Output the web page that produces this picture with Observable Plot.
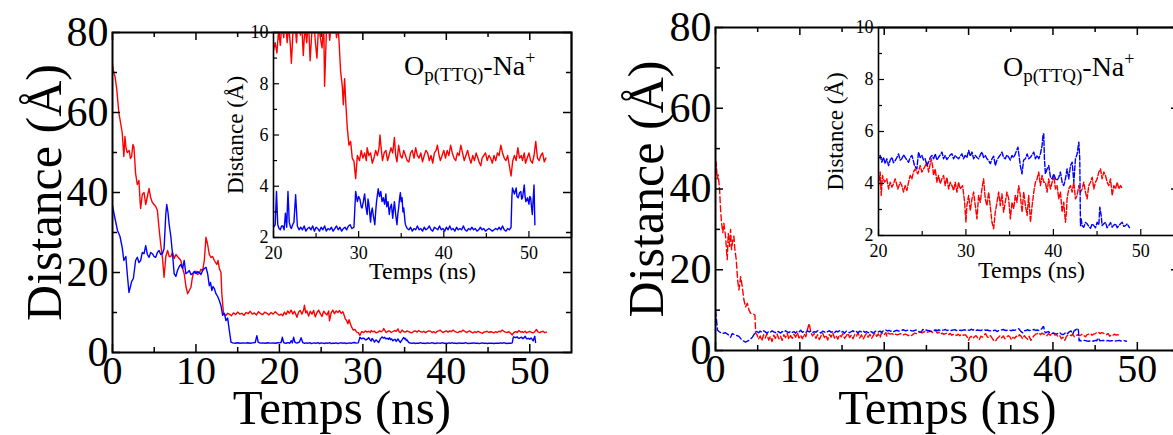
<!DOCTYPE html>
<html><head><meta charset="utf-8">
<script src="https://cdn.jsdelivr.net/npm/d3@7"></script>
<script src="https://cdn.jsdelivr.net/npm/@observablehq/plot@0.6"></script>
<style>
html,body{margin:0;padding:0;background:#fff;}
#root{position:relative;width:1173px;height:435px;overflow:hidden;background:#fff;}
#root svg{position:absolute;}
</style></head><body><div id="root"></div>
<script>
// ---- axis ticks and labels ----
const xMajor = [0,10,20,30,40,50];
const xMinor = [5,15,25,35,45];
const yMajor = [0,20,40,60,80];
const yMinor = [10,30,50,70];
const ixMajor = [20,30,40,50];
const ixMinor = [25,35,45];
const iyMajor = [2,4,6,8,10];
const iyMinor = [3,5,7,9];
const xLabel = "Temps (ns)";
const yLabel = "Distance (Å)";
const RED = "#ff0000", BLUE = "#0000ff";

// ---- series: [time (ns), distance (Å)] ----
const leftRed = [[0,72],[0.15,70],[0.3,69],[0.5,66],[0.76,60],[1.0,57],[1.16,55],[1.36,49],[1.49,54],[1.63,51],[1.77,50],[2.0,50.5],[2.15,48.5],[2.29,49],[2.45,52],[2.57,51.3],[2.77,44.7],[2.97,42],[3.17,43],[3.3,38],[3.37,36],[3.57,39.5],[3.78,40],[3.98,37],[4.18,39],[4.38,41],[4.58,38.6],[4.78,37.5],[4.98,37],[5.18,36.5],[5.38,35.5],[5.58,31],[5.78,27],[5.98,23.8],[6.18,18.8],[6.39,24],[6.6,25.5],[6.8,24],[6.99,24],[7.2,25],[7.39,23.5],[7.6,24.5],[7.79,24],[8.0,23.5],[8.19,23],[8.4,21],[8.59,19.7],[8.8,16.5],[9.0,14.7],[9.2,15.5],[9.4,16.3],[9.55,18.5],[9.68,19.7],[10.0,20.3],[10.2,19.5],[10.4,19.8],[10.6,20.8],[10.8,20.5],[11.0,23],[11.2,28.8],[11.4,27],[11.6,24.5],[11.8,23.8],[12.0,24],[12.2,23],[12.5,22],[12.65,23],[12.8,21],[13.0,20],[13.1,14.7],[13.3,9.7],[13.6,9.3],[13.8,9.8],
[14.0,9.6],[14.25,9.2],[14.5,9.9],[14.75,9.5],[15.0,10.1],[15.25,9.6],[15.5,9.8],[15.75,9.3],[16.0,10.0],[16.25,9.7],[16.5,10.3],[16.75,9.6],[17.0,9.9],[17.25,9.4],[17.5,10.2],[17.75,9.7],[18.0,9.5],[18.25,10.1],[18.5,9.8],[18.75,9.4],[19.0,10.0],[19.25,9.6],[19.5,10.2],[19.75,9.7],
[20.0,9.3],[20.2,9.6],[20.4,9.2],[20.6,10.1],[20.8,9.5],[21.0,10.4],[21.2,9.8],[21.4,10.6],[21.6,9.6],[21.8,10.3],[22.0,9.4],[22.1,8.8],[22.3,10.1],[22.5,10.5],[22.7,9.6],[22.9,10.6],[23.0,11.8],[23.15,9.9],[23.3,10.4],[23.5,9.1],[23.7,10.3],[23.9,9.6],[24.1,10.5],[24.3,8.9],[24.5,10.0],[24.7,10.6],[24.9,9.7],[25.1,9.0],[25.3,10.3],[25.5,9.8],[25.7,9.4],[25.9,10.4],[26.0,7.9],[26.2,9.9],[26.4,10.6],[26.6,9.7],[26.8,10.4],[27.0,10.0],[27.2,10.5],[27.4,9.8],[27.6,10.2],[27.7,9.66],[27.88,8.48],[28.08,7.9],[28.2,7.18],[28.35,8.2],[28.5,7.2],[28.67,6.27],[28.86,5.6],[29.06,5.75],[29.25,5.1],[29.45,4.97],[29.65,4.3],[29.85,5.2],
[30.1,5.0],[30.3,5.4],[30.5,5.1],[30.7,5.3],[30.9,5.0],[31.0,5.5],[31.2,5.2],[31.4,5.3],[31.6,4.9],[31.8,5.1],[32.0,5.4],[32.2,5.2],[32.4,5.5],[32.5,6.0],[32.7,5.3],[32.8,5.0],[33.0,5.3],[33.2,5.4],[33.4,5.0],[33.6,5.25],[33.8,5.5],[34.0,5.3],[34.2,5.9],[34.35,5.2],[34.5,4.95],[34.7,5.6],[34.9,5.2],[35.1,5.1],[35.3,5.4],[35.5,5.2],[35.7,5.0],[35.9,4.95],[36.1,5.3],[36.3,5.4],[36.5,5.1],[36.7,5.5],[36.9,5.2],[37.1,5.1],[37.3,5.3],[37.5,4.95],[37.7,5.2],[37.9,5.4],[38.1,5.3],[38.3,5.0],[38.5,5.2],[38.7,4.9],[38.9,5.3],[39.1,5.4],[39.25,5.6],[39.45,5.2],[39.6,5.0],[39.8,5.2],[40.0,5.4],[40.2,5.1],[40.4,5.4],[40.6,5.2],[40.8,5.6],[41.0,5.3],[41.2,5.1],[41.4,5.0],[41.6,5.3],[41.8,5.2],[42.0,5.6],[42.2,5.3],[42.4,5.0],[42.6,5.2],[42.8,5.4],[43.0,5.1],[43.2,4.9],[43.4,5.2],[43.6,5.0],[43.8,5.3],[44.0,5.1],[44.2,4.9],[44.35,4.8],[44.5,5.1],[44.7,5.2],[44.9,5.3],[45.1,5.0],[45.3,5.2],[45.5,5.1],[45.7,4.9],[45.9,5.2],[46.1,5.0],[46.3,5.3],[46.5,5.2],[46.7,5.6],[46.9,5.3],[47.1,5.1],[47.3,5.0],[47.5,5.2],[47.7,4.8],[47.9,4.4],[48.1,5.0],[48.3,5.2],[48.5,5.0],[48.7,5.5],[48.9,5.1],[49.1,5.2],[49.25,5.0],[49.45,5.3],[49.6,4.9],[49.8,5.1],[50.0,5.3],[50.2,5.0],[50.4,4.9],[50.6,5.2],[50.8,5.75],[51.0,5.1],[51.2,5.0],[51.4,5.2],[51.6,5.3],[51.8,4.95],[52.0,5.1]];

const leftBlue = [[0,36.7],[0.2,34.5],[0.35,33],[0.6,30.5],[0.9,29],[1.16,26.3],[1.36,23],[1.6,24],[1.77,19.7],[1.97,15],[2.15,16.5],[2.29,17.7],[2.5,18.5],[2.77,23],[2.97,23.8],[3.17,22.5],[3.37,23],[3.57,25],[3.78,24.7],[3.98,26.7],[4.18,24.5],[4.38,23.8],[4.58,25],[4.78,24.7],[4.98,24],[5.18,23.8],[5.38,25],[5.58,25.5],[5.78,24.5],[5.98,24.7],[6.18,26],[6.39,34.7],[6.5,37],[6.65,35],[6.79,32],[6.99,29],[7.19,24.7],[7.39,19.7],[7.59,19],[7.79,20.5],[8.0,21.5],[8.19,22],[8.4,21],[8.59,23],[8.79,19.7],[9.0,20],[9.2,20.5],[9.4,19.5],[9.6,19.7],[9.8,20.3],[10.0,19.7],[10.2,20.2],[10.4,20],[10.6,19.5],[10.8,20.5],[11.0,21],[11.2,21.3],[11.4,19.7],[11.6,16.7],[11.75,17.5],[11.9,15.5],[12.05,16.5],[12.2,16],[12.4,14.7],[12.6,14],[12.8,13],[13.0,11.7],[13.2,9.3],[13.4,9.8],[13.6,8],[13.8,8.6],[14.0,5.5],[14.2,2.6],
[14.4,2.4],[14.7,2.3],[15.0,2.45],[15.3,2.3],[15.6,2.4],[15.9,2.35],[16.2,2.45],[16.5,2.3],[16.8,2.4],[17.1,2.5],[17.3,4.2],[17.45,2.6],[17.7,2.35],[18.0,2.4],[18.3,2.3],[18.6,2.45],[18.9,2.35],[19.2,2.4],[19.5,2.3],[19.8,2.45],
[20.0,2.4],[20.2,2.5],[20.35,3.8],[20.5,2.5],[20.65,2.35],[20.8,2.3],[20.95,2.45],[21.1,2.45],[21.25,2.3],[21.4,2.95],[21.55,2.4],[21.7,3.8],[21.85,2.6],[22.0,2.4],[22.1,2.35],[22.25,2.5],[22.4,2.6],[22.6,3.67],[22.8,2.45],[23.0,2.3],[23.2,2.4],[23.4,2.3],[23.6,2.45],[23.8,2.25],[24.0,2.35],[24.2,2.4],[24.4,2.3],[24.6,2.45],[24.8,2.25],[25.0,2.4],[25.2,2.35],[25.4,2.25],[25.6,2.4],[25.8,2.3],[26.0,2.45],[26.2,2.25],[26.4,2.35],[26.6,2.3],[26.8,2.4],[27.0,2.25],[27.2,2.35],[27.4,2.45],[27.6,2.3],[27.8,2.4],[28.0,2.25],[28.2,2.35],[28.4,2.4],[28.6,2.3],[28.8,2.45],[29.0,2.5],[29.2,2.35],[29.45,2.4],[29.55,3.1],[29.65,3.8],[29.85,3.4],[30.0,3.6],[30.15,3.5],[30.3,3.2],[30.4,3.15],[30.55,3.4],[30.7,3.7],[30.85,3.2],[31.0,2.9],[31.1,3.5],[31.2,3.3],[31.4,2.6],[31.5,3.0],[31.6,3.15],[31.75,2.8],[31.9,2.5],[32.0,3.0],[32.1,3.4],[32.3,3.9],[32.45,3.6],[32.6,3.8],[32.75,3.4],[32.9,3.55],[33.05,3.3],[33.2,3.7],[33.3,3.2],[33.45,3.4],[33.6,2.9],[33.7,3.15],[33.85,3.3],[34.0,2.75],[34.1,3.1],[34.2,3.4],[34.35,2.9],[34.5,2.5],[34.6,2.9],[34.7,3.15],[34.8,3.5],[34.9,3.75],[35.0,3.4],[35.1,3.55],[35.2,3.0],[35.3,3.15],[35.45,2.6],[35.5,2.5],[35.7,2.35],[35.9,2.3],[36.1,2.4],[36.3,2.25],[36.5,2.35],[36.7,2.3],[36.9,2.45],[37.1,2.3],[37.3,2.35],[37.5,2.25],[37.7,2.4],[37.9,2.3],[38.1,2.35],[38.3,2.45],[38.5,2.3],[38.7,2.25],[38.9,2.4],[39.1,2.35],[39.3,2.3],[39.5,2.45],[39.7,2.3],[39.9,2.35],[40.1,2.25],[40.3,2.4],[40.5,2.3],[40.7,2.45],[40.9,2.3],[41.1,2.35],[41.3,2.25],[41.5,2.4],[41.7,2.3],[41.9,2.35],[42.1,2.3],[42.3,2.45],[42.5,2.3],[42.7,2.25],[42.9,2.35],[43.1,2.3],[43.3,2.4],[43.5,2.3],[43.7,2.35],[43.9,2.25],[44.1,2.3],[44.3,2.4],[44.5,2.3],[44.7,2.35],[44.9,2.25],[45.1,2.3],[45.3,2.35],[45.5,2.3],[45.7,2.25],[45.9,2.3],[46.1,2.35],[46.3,2.3],[46.5,2.4],[46.7,2.3],[46.9,2.45],[47.1,2.3],[47.3,2.25],[47.5,2.35],[47.7,2.3],[47.9,2.4],[48.0,3.6],[48.07,3.93],[48.3,3.7],[48.5,3.93],[48.6,3.6],[48.74,3.55],[48.9,3.75],[49.05,3.8],[49.15,3.5],[49.25,3.55],[49.45,4.05],[49.55,3.6],[49.64,3.4],[49.84,3.55],[50.0,3.3],[50.1,3.6],[50.2,3.55],[50.3,3.2],[50.4,2.9],[50.5,3.5],[50.6,4.05],[50.7,2.5]];

const rightRed = [[0,44],[0.08,46.7],[0.2,42.5],[0.32,43.5],[0.48,40],[0.6,35],[0.71,31.7],[0.87,29.2],[0.99,31.5],[1.19,28.3],[1.39,22.5],[1.51,29],[1.67,25.8],[1.79,30],[1.9,25],[2.06,27.5],[2.18,28.3],[2.3,25],[2.46,22.5],[2.62,17.5],[2.78,15],[2.98,18.3],[3.17,15.8],[3.37,12.5],[3.57,10.8],[3.77,11.7],[3.97,10],[4.17,9.2],[4.37,9.2],[4.68,8.75],[4.76,4.2],
[4.9,4.0],[5.1,2.8],[5.3,3.6],[5.5,2.4],[5.7,3.9],[5.9,3.1],[6.1,4.2],[6.3,2.6],[6.5,3.5],[6.7,2.2],[6.9,3.8],[7.1,3.0],[7.3,4.1],[7.5,2.9],[7.7,3.6],[7.9,2.5],[8.1,3.9],[8.3,3.2],[8.5,4.3],[8.7,2.8],[8.9,3.7],[9.1,3.0],[9.3,4.0],[9.5,3.3],[9.7,4.4],[9.9,3.1],[10.1,3.8],[10.3,2.9],[10.5,4.1],[10.7,3.4],[10.9,5.2],[11.1,6.7],[11.3,4.5],[11.5,3.6],[11.7,4.2],[11.9,3.0],[12.1,3.9],[12.3,2.7],[12.5,3.6],[12.7,4.3],[12.9,3.2],[13.1,3.8],[13.3,2.6],[13.5,4.0],[13.7,3.3],[13.9,4.4],[14.1,3.1],[14.3,3.7],[14.5,2.8],[14.7,3.9],[14.9,3.4],[15.1,4.2],[15.3,3.0],[15.5,3.6],[15.7,4.3],[15.9,3.2],[16.1,3.8],[16.3,2.9],[16.5,4.0],[16.7,3.5],[16.9,4.4],[17.1,3.1],[17.3,3.9],[17.5,2.8],[17.7,3.6],[17.9,4.2],[18.1,3.3],[18.3,4.0],[18.5,3.0],[18.7,3.7],[18.9,4.4],[19.1,3.5],[19.3,4.1],[19.5,3.2],[19.7,4.5],[19.9,3.9],
[20.0,3.92],[20.19,4.44],[20.31,3.54],[20.46,4.31],[20.69,4.05],[20.95,4.18],[21.15,3.79],[21.34,4.05],[21.53,3.86],[21.72,3.99],[21.91,4.18],[22.21,3.79],[22.48,4.05],[22.67,3.92],[22.86,3.67],[23.05,3.92],[23.24,3.73],[23.44,4.05],[23.63,4.31],[23.82,4.18],[24.0,4.44],[24.2,4.56],[24.5,4.37],[24.77,4.69],[24.96,4.44],[25.27,4.63],[25.53,4.82],[25.73,4.44],[26.03,4.95],[26.18,4.69],[26.3,4.31],[26.49,4.56],[26.68,4.05],[26.87,4.31],[27.06,3.99],[27.25,4.18],[27.44,4.31],[27.63,3.92],[27.82,4.24],[28.02,3.79],[28.21,4.05],[28.4,3.92],[28.59,3.73],[28.78,4.05],[28.97,3.67],[29.16,4.05],[29.35,3.79],[29.62,3.92],[29.85,3.28],[30.0,2.51],[30.11,3.15],[30.31,3.54],[30.5,2.96],[30.69,3.41],[30.88,3.67],[31.07,3.15],[31.26,2.64],[31.45,3.54],[31.64,3.28],[31.83,3.79],[32.02,4.18],[32.21,3.41],[32.4,3.15],[32.6,3.67],[32.79,3.09],[32.98,2.51],[33.17,2.26],[33.36,2.9],[33.55,3.28],[33.74,3.67],[33.93,3.15],[34.12,3.6],[34.31,2.9],[34.5,3.28],[34.69,3.67],[34.89,3.41],[35.08,2.64],[35.27,3.28],[35.46,3.03],[35.65,3.54],[35.84,3.28],[36.03,3.92],[36.22,3.54],[36.42,2.9],[36.61,3.67],[36.8,3.15],[37.0,2.77],[37.18,3.54],[37.38,2.51],[37.57,3.15],[37.76,3.67],[37.95,4.05],[38.14,4.18],[38.33,4.44],[38.52,3.92],[38.71,4.31],[38.9,4.05],[39.09,4.05],[39.28,3.67],[39.47,4.18],[39.67,3.79],[39.86,4.05],[40.05,4.31],[40.24,3.79],[40.43,3.92],[40.62,3.41],[40.81,3.67],[41.0,2.9],[41.19,3.28],[41.38,2.51],[41.5,2.9],[41.57,3.41],[41.76,3.79],[41.96,3.92],[42.15,3.67],[42.34,4.05],[42.53,3.41],[42.72,3.54],[42.91,3.92],[43.1,3.67],[43.29,3.79],[43.48,4.05],[43.67,3.67],[43.86,3.41],[44.05,3.92],[44.25,4.05],[44.44,4.24],[44.63,3.79],[44.82,4.05],[45.01,4.18],[45.2,4.44],[45.39,4.56],[45.58,4.18],[45.77,4.44],[45.96,4.31],[46.15,4.05],[46.34,3.92],[46.54,4.18],[46.73,3.54],[46.92,3.92],[47.11,3.79],[47.3,4.05],[47.49,3.79],[47.68,3.92],[47.9,3.8]];

const rightBlue = [[0,10],[0.12,7.5],[0.24,5],[0.48,4.6],[0.79,4.2],[1.19,4.4],[1.59,3.8],[1.79,3.3],[1.98,4.2],[2.38,3.8],[2.78,3.5],[3.17,2.5],[3.57,2.1],[3.97,2.5],[4.37,3.3],[4.76,4.6],
[4.9,4.7],[5.1,4.4],[5.3,4.8],[5.5,4.5],[5.7,4.9],[5.9,4.6],[6.1,4.3],[6.3,4.7],[6.5,4.5],[6.7,4.9],[6.9,4.6],[7.1,4.4],[7.3,4.8],[7.5,4.6],[7.7,4.3],[7.9,4.7],[8.1,4.5],[8.3,4.9],[8.5,4.6],[8.7,4.4],[8.9,4.8],[9.1,4.5],[9.3,4.7],[9.5,4.3],[9.7,4.8],[9.9,4.6],[10.1,5.0],[10.3,4.5],[10.5,4.7],[10.7,4.4],[10.9,4.9],[11.1,4.6],[11.3,4.8],[11.5,4.4],[11.7,4.7],[11.9,4.5],[12.1,4.9],[12.3,4.6],[12.5,4.3],[12.7,4.8],[12.9,4.6],[13.1,4.4],[13.3,4.7],[13.5,4.9],[13.7,4.5],[13.9,4.7],[14.1,4.4],[14.3,4.8],[14.5,4.6],[14.7,4.9],[14.9,4.5],[15.1,4.7],[15.3,4.3],[15.5,4.8],[15.7,4.6],[15.9,4.4],[16.1,4.7],[16.3,4.9],[16.5,4.5],[16.7,4.7],[16.9,4.4],[17.1,4.8],[17.3,4.6],[17.5,4.9],[17.7,4.5],[17.9,4.7],[18.1,4.4],[18.3,4.8],[18.5,4.6],[18.7,4.3],[18.9,4.7],[19.1,4.9],[19.3,4.6],[19.5,4.8],[19.7,4.5],[19.9,4.9],
[20.0,4.95],[20.19,5.08],[20.38,4.82],[20.57,5.01],[20.76,4.76],[20.95,4.95],[21.15,4.69],[21.34,4.9],[21.53,5.01],[21.72,4.8],[21.91,4.88],[22.1,5.0],[22.29,5.14],[22.48,4.9],[22.67,4.95],[22.86,5.1],[23.05,5.01],[23.24,4.9],[23.44,4.82],[23.63,5.0],[23.82,5.08],[23.97,4.9],[24.12,4.69],[24.39,4.56],[24.58,5.21],[24.77,5.0],[24.96,5.08],[25.15,4.9],[25.34,4.95],[25.53,4.69],[25.73,4.82],[25.92,5.0],[26.11,5.08],[26.3,4.95],[26.49,5.14],[26.68,4.9],[26.87,5.01],[27.06,5.1],[27.25,5.21],[27.44,4.95],[27.63,5.08],[27.82,4.92],[28.02,5.01],[28.21,5.1],[28.4,5.14],[28.59,4.95],[28.78,5.08],[28.97,5.0],[29.16,4.95],[29.35,5.05],[29.54,5.14],[29.73,4.95],[29.92,5.08],[30.11,5.0],[30.31,5.27],[30.5,5.05],[30.69,5.21],[30.88,4.95],[31.07,5.08],[31.26,5.0],[31.45,4.95],[31.64,5.1],[31.83,5.21],[32.02,5.0],[32.21,5.08],[32.4,4.95],[32.6,4.88],[32.79,4.76],[32.98,4.95],[33.17,5.05],[33.36,4.69],[33.55,4.9],[33.74,5.01],[33.93,5.1],[34.12,5.21],[34.31,5.0],[34.5,4.95],[34.69,5.1],[34.89,5.01],[35.08,4.9],[35.27,5.08],[35.46,5.0],[35.65,5.14],[35.95,5.4],[36.22,4.69],[36.41,4.37],[36.6,4.9],[36.8,4.95],[37.0,5.14],[37.19,4.95],[37.38,5.01],[37.57,5.1],[37.76,5.21],[37.95,4.95],[38.14,5.08],[38.33,4.95],[38.52,5.14],[38.71,5.46],[38.83,5.91],[38.9,5.91],[38.98,4.95],[39.09,4.37],[39.28,4.56],[39.47,4.69],[39.67,4.24],[39.86,4.18],[40.05,4.37],[40.24,4.18],[40.43,4.12],[40.62,4.24],[40.81,4.44],[41.0,4.05],[41.19,3.92],[41.38,4.18],[41.57,4.56],[41.76,4.18],[41.96,4.69],[42.15,4.82],[42.34,4.05],[42.53,4.95],[42.72,5.14],[42.91,5.59],[43.02,4.95],[43.1,2.38],[43.18,2.64],[43.29,2.38],[43.48,2.32],[43.67,2.5],[43.86,2.45],[44.05,2.35],[44.25,2.28],[44.44,2.45],[44.63,2.38],[44.82,2.3],[45.01,2.51],[45.2,2.4],[45.31,3.09],[45.47,2.77],[45.58,2.38],[45.77,2.45],[45.96,2.51],[46.15,2.3],[46.34,2.38],[46.54,2.5],[46.73,2.32],[46.92,2.4],[47.11,2.45],[47.3,2.3],[47.49,2.38],[47.68,2.45],[47.87,2.51],[48.06,2.35],[48.25,2.38],[48.44,2.45],[48.7,2.3]];

// ---- drawing ----
const serif = "'Liberation Serif','Times New Roman',serif";
const root = document.getElementById("root");

function lineMarks(red, blue, dash) {
  const o = {x: d => d[0], y: d => d[1], strokeWidth: 1.4, clip: true, strokeDasharray: dash};
  return [Plot.line(red, {...o, stroke: RED}), Plot.line(blue, {...o, stroke: BLUE})];
}

function labelMarks(c, fx, fy) {
  return [
    Plot.text([xLabel], {text: d => d, frameAnchor: "bottom", textAnchor: "middle", lineAnchor: "middle", dy: c.xLabelDy, fontSize: fx}),
    Plot.text([yLabel], {text: d => d, frameAnchor: "left", textAnchor: "middle", lineAnchor: "middle", rotate: -90, dx: c.yLabelDx, fontSize: fy})
  ];
}

function mainPlot(c) {
  const pw = c.width - c.mL - c.mR, ph = c.height - c.mT - c.mB;
  const sw = 1.5, maj = 8, mnr = 5;
  const svg = Plot.plot({
    width: c.width, height: c.height,
    marginLeft: c.mL, marginRight: c.mR, marginTop: c.mT, marginBottom: c.mB,
    style: {fontFamily: serif, background: "transparent", color: "#000", overflow: "visible"},
    x: {domain: [0, 55]}, y: {domain: [0, 80]},
    marks: [
      ...lineMarks(c.red, c.blue, c.dash),
      Plot.tickX(xMajor, {x: d => d, insetTop: ph - maj, strokeWidth: sw}),
      Plot.tickX(xMajor, {x: d => d, insetBottom: ph - maj, strokeWidth: sw}),
      Plot.tickX(xMinor, {x: d => d, insetTop: ph - mnr, strokeWidth: sw}),
      Plot.tickX(xMinor, {x: d => d, insetBottom: ph - mnr, strokeWidth: sw}),
      Plot.tickY(yMajor, {y: d => d, insetRight: pw - maj, strokeWidth: sw}),
      Plot.tickY(yMajor, {y: d => d, insetLeft: pw - maj, strokeWidth: sw}),
      Plot.tickY(yMinor, {y: d => d, insetRight: pw - mnr, strokeWidth: sw}),
      Plot.tickY(yMinor, {y: d => d, insetLeft: pw - mnr, strokeWidth: sw}),
      Plot.frame({stroke: "#000", strokeWidth: 2}),
      Plot.axisX(xMajor, {tickSize: 0, tickPadding: 3, fontSize: 40, label: null}),
      Plot.axisY(yMajor, {tickSize: 0, tickPadding: 4, fontSize: 42, label: null}),
      ...labelMarks(c, 49, 50)
    ]
  });
  svg.style.left = c.left + "px"; svg.style.top = c.top + "px";
  root.appendChild(svg);
}

function insetPlot(c) {
  const pw = c.width - c.mL - c.mR, ph = c.height - c.mT - c.mB;
  const sw = 1.2, maj = 6, mnr = 4;
  const svg = Plot.plot({
    width: c.width, height: c.height,
    marginLeft: c.mL, marginRight: c.mR, marginTop: c.mT, marginBottom: c.mB,
    style: {fontFamily: serif, background: "transparent", color: "#000", overflow: "visible"},
    x: {domain: [20, 55]}, y: {domain: [2, 10]},
    marks: [
      ...lineMarks(c.red, c.blue, c.dash),
      Plot.tickX(ixMajor, {x: d => d, insetTop: ph - maj, strokeWidth: sw}),
      Plot.tickX(ixMinor, {x: d => d, insetTop: ph - mnr, strokeWidth: sw}),
      Plot.tickY(iyMajor, {y: d => d, insetRight: pw - maj, strokeWidth: sw}),
      Plot.tickY(iyMinor, {y: d => d, insetRight: pw - mnr, strokeWidth: sw}),
      Plot.frame({stroke: "#000", strokeWidth: 1.6}),
      Plot.axisX(ixMajor, {tickSize: 0, tickPadding: 9, fontSize: 18, label: null}),
      Plot.axisY(iyMajor, {tickSize: 0, tickPadding: 5, fontSize: 18, label: null}),
      ...labelMarks(c, 24, 23)
    ]
  });
  svg.style.left = c.left + "px"; svg.style.top = c.top + "px";
  // species label  O_p(TTQ) - Na+
  const t = d3.select(svg).append("text")
    .attr("x", c.tagX).attr("y", c.tagY).attr("text-anchor", "start")
    .attr("font-family", serif).attr("font-size", 28).attr("fill", "#000");
  t.append("tspan").text("O");
  t.append("tspan").attr("font-size", 19).attr("dy", 6).text("p(TTQ)");
  t.append("tspan").attr("dy", -6).text("-Na");
  t.append("tspan").attr("font-size", 18).attr("dy", -11).text("+");
  root.appendChild(svg);
}

mainPlot({left: 0, top: 0, width: 600, height: 435, mL: 112, mR: 29, mT: 32, mB: 83,
  red: leftRed, blue: leftBlue, dash: null, xLabelDy: 56, yLabelDx: -68});
mainPlot({left: 600, top: 0, width: 600, height: 435, mL: 115, mR: 21, mT: 27, mB: 85,
  red: rightRed, blue: rightBlue, dash: "6,3", xLabelDy: 58, yLabelDx: -69});
insetPlot({left: 200, top: 22, width: 372, height: 270, mL: 73, mR: 1, mT: 10, mB: 55,
  red: leftRed, blue: leftBlue, dash: null, xLabelDy: 34, yLabelDx: -38, tagX: 204, tagY: 53});
insetPlot({left: 800, top: 17, width: 400, height: 273, mL: 78, mR: 16, mT: 10, mB: 55,
  red: rightRed, blue: rightBlue, dash: "5,2", xLabelDy: 35, yLabelDx: -43, tagX: 203, tagY: 59});
</script>
</body></html>
